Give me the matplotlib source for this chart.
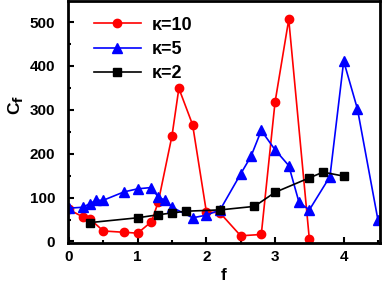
import numpy as np
import matplotlib
matplotlib.use('Agg')
import matplotlib.pyplot as plt
from matplotlib.ticker import MultipleLocator

plt.rcParams['font.family'] = ['Liberation Sans', 'DejaVu Sans']
plt.rcParams['font.weight'] = 'bold'
plt.rcParams['mathtext.default'] = 'bf'

# kappa = 10
f10 = [0, 0.2, 0.3, 0.5, 0.8, 1.0, 1.2, 1.3, 1.5, 1.6, 1.8, 2.0, 2.2, 2.5, 2.8, 3.0, 3.2, 3.5]
c10 = [73, 56, 52, 24, 21, 19, 45, 90, 241, 349, 266, 68, 65, 13, 16, 317, 506, 5]

# kappa = 5
f5 = [0, 0.2, 0.3, 0.4, 0.5, 0.8, 1.0, 1.2, 1.3, 1.4, 1.5, 1.8, 2.0, 2.2, 2.5, 2.65,
      2.8, 3.0, 3.2, 3.35, 3.5, 3.8, 4.0, 4.2, 4.5]
c5 = [76, 78, 86, 94, 94, 113, 120, 123, 101, 94, 78, 54, 60, 72, 154, 194,
      253, 209, 173, 89, 72, 148, 411, 302, 48]

# kappa = 2
f2 = [0.3, 1.0, 1.3, 1.5, 1.7, 2.2, 2.7, 3.0, 3.5, 3.7, 4.0]
c2 = [43, 54, 61, 65, 69, 72, 80, 112, 145, 158, 149]

fig = plt.figure(figsize=(3.82, 2.86), dpi=100)
ax = fig.add_axes([0.177, 0.151, 0.818, 0.844])

ax.plot(f10, c10, '-o', color='red', lw=1.2, ms=6, label='κ=10')
ax.plot(f5, c5, '-^', color='blue', lw=1.2, ms=6.5, label='κ=5')
ax.plot(f2, c2, '-s', color='black', lw=1.2, ms=5.5, label='κ=2')

ax.set_xlim(-0.02, 4.53)
ax.set_ylim(-3, 547)
ax.xaxis.set_major_locator(MultipleLocator(1))
ax.xaxis.set_minor_locator(MultipleLocator(0.5))
ax.yaxis.set_major_locator(MultipleLocator(100))
ax.yaxis.set_minor_locator(MultipleLocator(50))
ax.tick_params(which='both', direction='in', width=1.5, labelsize=11)
ax.tick_params(which='major', length=4)
ax.tick_params(which='minor', length=2.5)
ax.tick_params(axis='y', pad=9)
ax.tick_params(axis='x', pad=5)
for s in ax.spines.values():
    s.set_linewidth(2)

ax.set_xlabel('f', fontsize=12.5, fontweight='bold', labelpad=3)
ax.set_ylabel('C$_f$', fontsize=12.5, fontweight='bold')
ax.yaxis.set_label_coords(-0.135, 0.57)

leg = ax.legend(loc='upper left', bbox_to_anchor=(0.035, 1.0), frameon=False,
                fontsize=13, handlelength=2.6, handletextpad=0.6,
                labelspacing=0.4, borderpad=0.35)

fig.savefig('out.png', dpi=100)
